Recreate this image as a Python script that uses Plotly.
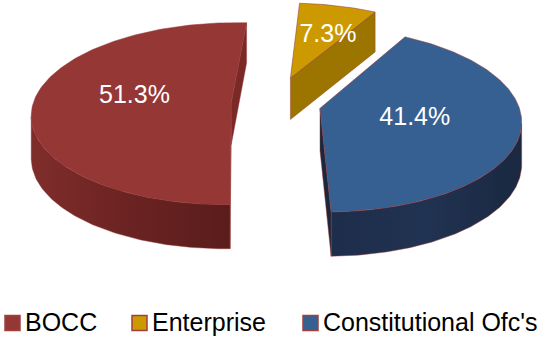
import numpy as np
import plotly.graph_objects as go

# Budget shares (percent)
labels = ["BOCC", "Enterprise", "Constitutional Ofc's"]
values = [51.3, 7.3, 41.4]

# Colours: top face, outer side gradient (light -> dark), radial cut face
top_colors = ["#953735", "#cc9a00", "#376092"]
side_ramps = [
    ["#7f2d2b", "#6a2322", "#5a1d1c"],
    ["#9c7500", "#8a6700", "#785900"],
    ["#1d2d4a", "#213352", "#1a2840"],
]
cut_colors = ["#7a2927", "#9c7500", "#1a283f"]
edge_color = "rgba(150,55,55,0.75)"
swatch_edge = "#a0403e"

# Explosion of each slice (fraction of radius)
pull = [0.216, 0.30, 0.238]

# 3-D view: angle where the first slice starts (deg clockwise from 12 o'clock),
# projected centre, horizontal/vertical radius, perspective strength, thickness
first_angle = 178.8
CX, CY = 274.0, 103.0
RX, RY = 198.0, 89.7
PERSP = 0.121
THICK = 42.0

# where each percentage label sits on its top face (radius, turn in degrees)
label_r = [0.5, 0.58, 0.48]
label_turn = [7.0, 5.0, 0.0]

# legend row (page pixels)
legend_x = [5, 132, 303]
legend_y = 322
swatch = 15
font_family = "Liberation Sans, Arial, sans-serif"

CAM = np.array([0.0, -1.0 / PERSP])      # viewer position on the ground plane


def project(u, v, z=0.0):
    """Disk coords (u right, v away from viewer) -> page coords; z=1 is the bottom rim."""
    u = np.asarray(u, float)
    v = np.asarray(v, float)
    s = 1.0 / (1.0 + PERSP * v)
    x = CX + RX * u * s
    y = CY - RY * v * s + THICK * z * s ** 0.4
    return x, y


def poly(x, y, color, line_color=None, width=0.6, ramp=None):
    kw = {}
    if ramp is not None:
        n = len(ramp) - 1
        kw["fillgradient"] = dict(
            type="horizontal",
            colorscale=[[k / n, c] for k, c in enumerate(ramp)],
        )
    return go.Scatter(
        x=list(x) + [x[0]], y=list(y) + [y[0]], mode="lines", fill="toself",
        fillcolor=color, line=dict(color=line_color or color, width=width),
        hoverinfo="skip", showlegend=False, **kw,
    )


total = sum(values)
spans = []
a0 = first_angle
for val in values:
    a1 = a0 + 360.0 * val / total
    spans.append((a0, a1))
    a0 = a1

slices = []
for i, (a0, a1) in enumerate(spans):
    mid = np.radians((a0 + a1) / 2)
    cu, cv = pull[i] * np.sin(mid), pull[i] * np.cos(mid)
    slices.append((i, a0, a1, cu, cv, mid))

# paint the far slices first
slices.sort(key=lambda s: -s[4])

traces = []
for i, a0, a1, cu, cv, mid in slices:
    centre = np.array([cu, cv])
    th = np.radians(np.linspace(a0, a1, 181))
    ru, rv = cu + np.sin(th), cv + np.cos(th)

    # outer curved side: the part of the rim that faces the viewer
    nrm = np.stack([np.sin(th), np.cos(th)], axis=1)
    vis = np.einsum("ij,ij->i", CAM - (centre + nrm), nrm) > 0
    if vis.sum() > 1:
        su, sv = ru[vis], rv[vis]
        xt, yt = project(su, sv, 0)
        xb, yb = project(su[::-1], sv[::-1], 1)
        traces.append(poly(np.r_[xt, xb], np.r_[yt, yb], side_ramps[i][1],
                           edge_color, 0.6, ramp=side_ramps[i]))

    # radial cut faces that turn towards the viewer
    for ang, sign in ((a0, -1), (a1, 1)):
        t = np.radians(ang)
        d = np.array([np.sin(t), np.cos(t)])
        n = sign * np.array([np.cos(t), -np.sin(t)])
        if np.dot(CAM - (centre + 0.5 * d), n) <= 0:
            continue
        uu = [cu, cu + d[0], cu + d[0], cu]
        vv = [cv, cv + d[1], cv + d[1], cv]
        zz = [0, 0, 1, 1]
        xs, ys = zip(*[project(a, b, c) for a, b, c in zip(uu, vv, zz)])
        traces.append(poly(np.array(xs), np.array(ys), cut_colors[i], edge_color, 0.6))

    # top face
    xt, yt = project(np.r_[cu, ru], np.r_[cv, rv], 0)
    traces.append(poly(xt, yt, top_colors[i], edge_color, 0.7))

# percentage labels on the top faces
lx, ly, lt = [], [], []
for i, a0, a1, cu, cv, mid in slices:
    ang = mid + np.radians(label_turn[i])
    x, y = project(cu + label_r[i] * np.sin(ang), cv + label_r[i] * np.cos(ang), 0)
    lx.append(float(x))
    ly.append(float(y))
    lt.append(f"{values[i]:.1f}%")
traces.append(go.Scatter(
    x=lx, y=ly, text=lt, mode="text", textposition="middle center",
    textfont=dict(family=font_family, size=25, color="white"),
    hoverinfo="skip", showlegend=False,
))

fig = go.Figure(traces)

# legend row: coloured swatch followed by the series name
for i, name in enumerate(labels):
    x0 = legend_x[i]
    fig.add_shape(
        type="rect", xref="x", yref="y",
        x0=x0, x1=x0 + swatch, y0=legend_y - swatch / 2 + 1, y1=legend_y + swatch / 2 + 1,
        fillcolor=top_colors[i], line=dict(color=swatch_edge, width=1.5),
    )
    fig.add_annotation(
        x=x0 + swatch + 3, y=legend_y, xref="x", yref="y", text=name,
        showarrow=False, xanchor="left", yanchor="middle",
        font=dict(family=font_family, size=25, color="black"),
    )

fig.update_layout(
    width=553, height=337,
    margin=dict(l=0, r=0, t=0, b=0, autoexpand=False),
    paper_bgcolor="white", plot_bgcolor="white",
    xaxis=dict(range=[0, 553], visible=False, fixedrange=True),
    yaxis=dict(range=[337, 0], visible=False, fixedrange=True),
    showlegend=False,
)
fig.write_html("out.html")
